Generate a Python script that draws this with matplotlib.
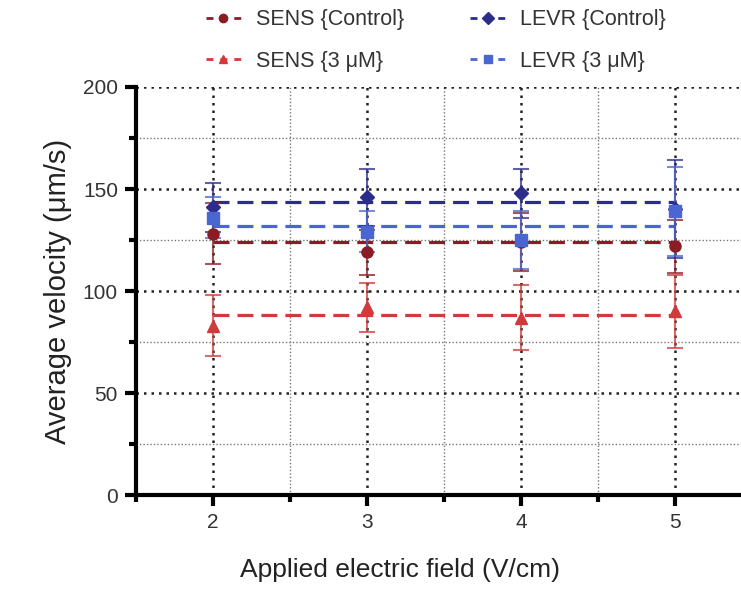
import matplotlib
matplotlib.use('Agg')
import matplotlib.pyplot as plt
from matplotlib.ticker import MultipleLocator

plt.rcParams['font.family'] = ['Liberation Sans', 'DejaVu Sans']

# Data
fields = [2, 3, 4, 5]  # V/cm

sens_ctrl = [128, 119, 124, 122]
sens_ctrl_err = [15, 11, 14, 13]
sens_3um = [83, 92, 87, 90]
sens_3um_err = [15, 12, 16, 18]
levr_ctrl = [141, 146, 148, 140]
levr_ctrl_err = [12, 14, 12, 24]
levr_3um = [136, 129, 125, 139]
levr_3um_err = [10, 10, 14, 22]

# horizontal fit levels (dashed lines)
fit_levels = [124, 88, 143.5, 132]

labels = ['SENS {Control}', 'SENS {3 μM}', 'LEVR {Control}', 'LEVR {3 μM}']
colors = ['#8b1c24', '#d03a3a', '#2c2c8c', '#4a66d0']
markers = ['o', '^', 'D', 's']
msizes = [8, 8, 7, 8]

fig = plt.figure(figsize=(7.41, 5.91), dpi=100)
ax = fig.add_axes([0.1835, 0.1624, 0.8165, 0.6904])

series = [
    (sens_ctrl, sens_ctrl_err),
    (sens_3um, sens_3um_err),
    (levr_ctrl, levr_ctrl_err),
    (levr_3um, levr_3um_err),
]

handles = []
for i, (vals, errs) in enumerate(series):
    ax.errorbar(fields, vals, yerr=errs, fmt='none', ecolor=colors[i],
                elinewidth=1.5, capsize=6, capthick=1.5, alpha=0.75, zorder=3)
    ax.plot(fields, vals, linestyle='none', marker=markers[i],
            markersize=msizes[i], color=colors[i], zorder=4)
    ax.plot([fields[0], fields[-1]], [fit_levels[i]] * 2, linestyle=(0, (5, 2.5)),
            linewidth=2.3, color=colors[i], zorder=2)
    h, = ax.plot([], [], linestyle=(0, (2.5, 2.5)), linewidth=2, color=colors[i],
                 marker=markers[i], markersize=6, label=labels[i])
    handles.append(h)

ax.set_xlim(1.5, 5.43)
ax.set_ylim(0, 200)
ax.xaxis.set_major_locator(MultipleLocator(1))
ax.xaxis.set_minor_locator(MultipleLocator(0.5))
ax.yaxis.set_major_locator(MultipleLocator(50))
ax.yaxis.set_minor_locator(MultipleLocator(25))

ax.grid(which='major', color='#222222', linestyle=(0, (1, 2)), linewidth=1.8, zorder=0)
ax.grid(which='minor', color='#777777', linestyle=(0, (1, 1.5)), linewidth=1.0, zorder=0)
ax.set_axisbelow(True)

for side in ['top', 'right']:
    ax.spines[side].set_visible(False)
for side in ['left', 'bottom']:
    ax.spines[side].set_linewidth(3)
    ax.spines[side].set_color('black')

ax.tick_params(which='major', length=8, width=3, labelsize=15, colors='black',
               labelcolor='#333333', pad=5)
ax.tick_params(which='minor', length=5, width=3, colors='black')

ax.set_xlabel('Applied electric field (V/cm)', fontsize=19, color='#222222')
ax.xaxis.set_label_coords(0.436, -0.155)
ax.set_ylabel('Average velocity (μm/s)', fontsize=21, color='#222222', labelpad=8)

fig.legend(handles=handles, ncol=2, frameon=False, loc='upper left',
           bbox_to_anchor=(0.252, 1.017), fontsize=15.5, handlelength=1.6,
           handletextpad=0.7, columnspacing=3.1, labelspacing=0.95,
           labelcolor='#333333')

fig.savefig('out.png', dpi=100)
